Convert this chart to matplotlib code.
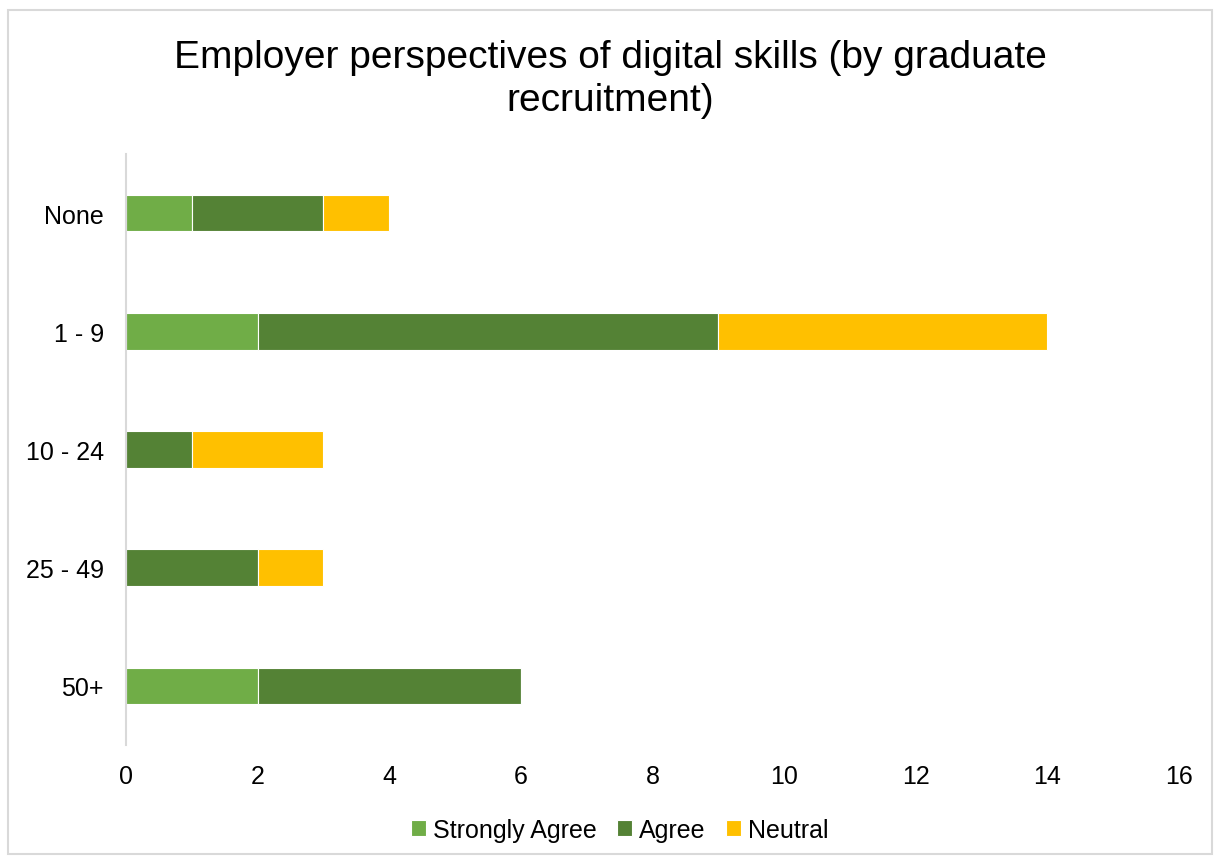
import matplotlib
matplotlib.use("Agg")
import matplotlib.pyplot as plt
import numpy as np
from matplotlib.patches import Rectangle

plt.rcParams['font.family'] = ['Liberation Sans', 'DejaVu Sans']

categories = ["None", "1 - 9", "10 - 24", "25 - 49", "50+"]
series_names = ["Strongly Agree", "Agree", "Neutral"]
strongly_agree = [1, 2, 0, 0, 2]
agree = [2, 7, 1, 2, 4]
neutral = [1, 5, 2, 1, 0]
colors = ["#70AD47", "#548235", "#FFC000"]
x_ticks = [0, 2, 4, 6, 8, 10, 12, 14, 16]

fig = plt.figure(figsize=(12.2, 8.62), dpi=100)
ax = fig.add_axes([0.1033, 0.1346, 0.8631, 0.6856])

y = np.arange(len(categories))
left = np.zeros(len(categories))
for name, vals, c in zip(series_names, [strongly_agree, agree, neutral], colors):
    vals = np.array(vals, dtype=float)
    ax.barh(y, vals, left=left, height=0.31, color=c, label=name,
            edgecolor="white", linewidth=0.8)
    left += vals

ax.set_ylim(len(categories) - 0.5, -0.5)
ax.set_xlim(0, 16)
ax.set_xticks(x_ticks)
ax.set_yticks(y)
ax.set_yticklabels(categories)
ax.tick_params(axis='both', length=0, labelsize=18, colors="#000000")
ax.tick_params(axis='x', pad=14)
ax.tick_params(axis='y', pad=16)
for s in ["top", "right", "bottom"]:
    ax.spines[s].set_visible(False)
ax.spines["left"].set_color("#D9D9D9")
ax.spines["left"].set_linewidth(1.5)

fig.text(0.5, 0.908, "Employer perspectives of digital skills (by graduate\nrecruitment)",
         ha="center", va="center", fontsize=28, linespacing=1.24)

leg = fig.legend(loc="center", bbox_to_anchor=(0.508, 0.036), ncol=3, frameon=False,
                 fontsize=18, handlelength=0.6, handleheight=0.6, handletextpad=0.3,
                 columnspacing=0.8)

fig.patches.append(Rectangle((0.0066, 0.008), 0.987, 0.979, transform=fig.transFigure,
                             fill=False, edgecolor="#D9D9D9", linewidth=1.5))

fig.savefig("out.png", dpi=100)
